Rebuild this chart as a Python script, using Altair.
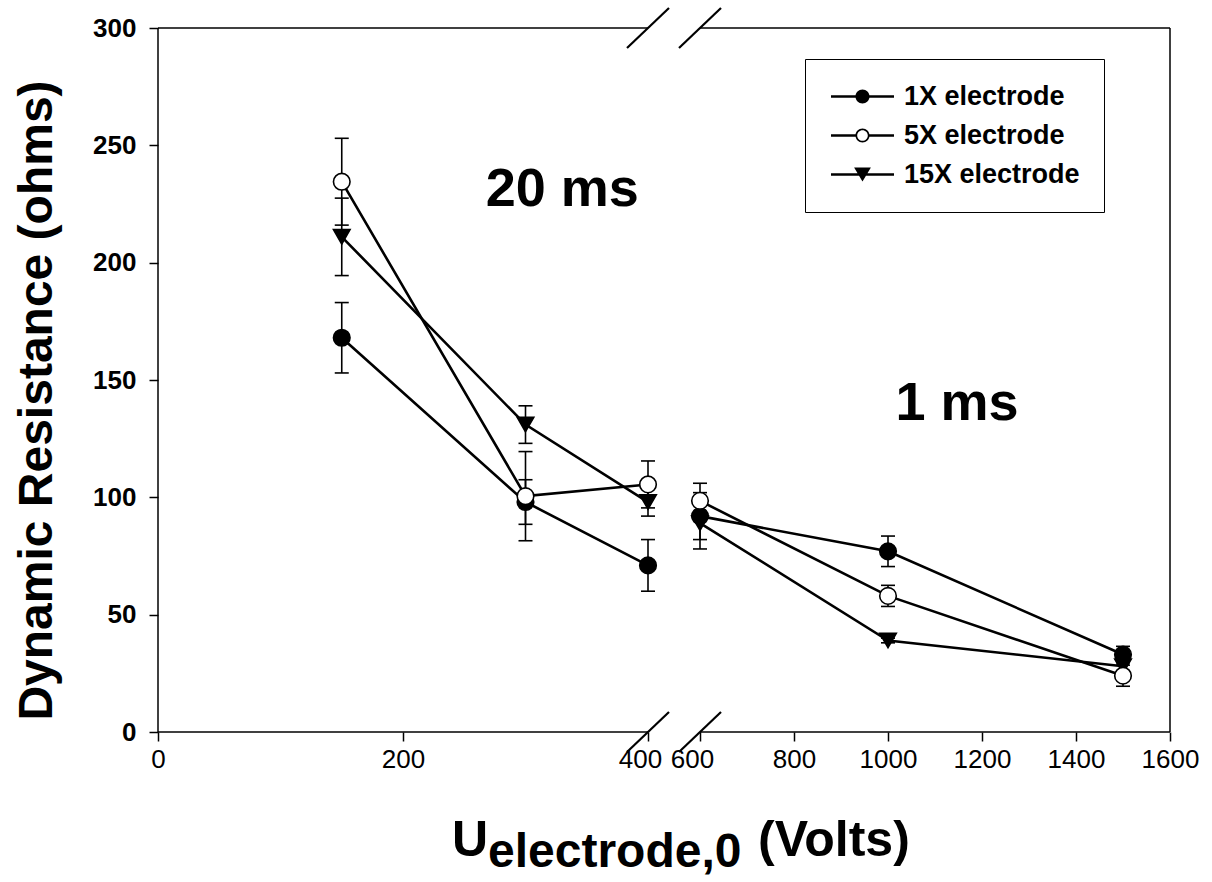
import altair as alt
import pandas as pd

# ---- data -----------------------------------------------------------------
series_names = ["1X electrode", "5X electrode", "15X electrode"]
voltages = [150, 300, 400, 600, 1000, 1500]
pulse_of_point = ["20 ms", "20 ms", "20 ms", "1 ms", "1 ms", "1 ms"]

res_1x = [168, 98, 71, 92, 77, 33]
err_1x = [15, 9.5, 11, 10, 6.5, 3.5]
res_5x = [234.5, 100.5, 105.5, 98.5, 58, 24]
err_5x = [18.5, 19, 10, 7.5, 4.5, 4.5]
res_15x = [211, 131, 98, 89, 39, 28]
err_15x = [16.5, 8, 6, 11, 1, 3]

x_ticks = [0, 200, 400, 600, 800, 1000, 1200, 1400, 1600]
y_ticks = [0, 50, 100, 150, 200, 250, 300]
x_domain = [0, 400, 600, 1600]          # 400-600 V is cut out of the axis
y_domain = [0, 300]

pulse_text = ["20 ms", "1 ms"]
pulse_volts = [330, 1147]
pulse_ohms = [224, 133]

# ---- tables ---------------------------------------------------------------
rows = []
# drawing order: later series sit on top
for name, res, err in [("15X electrode", res_15x, err_15x),
                       ("1X electrode", res_1x, err_1x),
                       ("5X electrode", res_5x, err_5x)]:
    for v, r, e, p in zip(voltages, res, err, pulse_of_point):
        rows.append({"series": name, "volts": v, "ohms": r,
                     "lo": r - e, "hi": r + e, "pulse": p})
df = pd.DataFrame(rows)

x0, xa, xb, x1 = x_domain
y0, y1 = y_domain
frame = pd.DataFrame({
    "x": [x0, x0, xb, x0, xb, x1],
    "x2": [x0, xa, x1, xa, x1, x1],
    "y": [y0, y0, y0, y1, y1, y0],
    "y2": [y1, y0, y0, y1, y1, y1],
})
breaks = pd.DataFrame({"x": [xa, xb, xa, xb], "y": [y0, y0, y1, y1]})
pulses = pd.DataFrame({"label": pulse_text, "volts": pulse_volts, "ohms": pulse_ohms})

# ---- scales & axes --------------------------------------------------------
FONT = "Liberation Sans"
xscale = alt.Scale(domain=x_domain, range=[0, 490, 542, 1012], nice=False, zero=False)
yscale = alt.Scale(domain=y_domain, nice=False, zero=False)

# labels either side of the axis break are nudged apart from the slashes
break_label_offset = {
    "condition": [{"test": f"datum.value === {xa}", "value": -8},
                  {"test": f"datum.value === {xb}", "value": -8}],
    "value": 0,
}

xaxis = alt.Axis(values=x_ticks, format="d", domain=False, grid=False, title=None,
                 tickSize=9, tickWidth=1.5, tickColor="black",
                 labelFont=FONT, labelFontSize=26, labelColor="black",
                 labelPadding=5, labelFlush=False, labelOverlap=False,
                 labelOffset=break_label_offset)
yaxis = alt.Axis(values=y_ticks, format="d", domain=False, grid=False,
                 title="Dynamic Resistance (ohms)", titleFont=FONT,
                 titleFontSize=48, titleFontWeight="bold", titleColor="black",
                 titleAngle=270, titleX=-121, titleY=372,
                 titleAlign="center", titleBaseline="middle",
                 tickSize=9, tickWidth=1.5, tickColor="black",
                 labelFont=FONT, labelFontSize=26, labelFontWeight="bold",
                 labelColor="black", labelPadding=13)


def X(field):
    return alt.X(f"{field}:Q", scale=xscale, axis=xaxis)


def Y(field):
    return alt.Y(f"{field}:Q", scale=yscale, axis=yaxis)


# ---- layers ---------------------------------------------------------------
frame_layer = alt.Chart(frame).mark_rule(color="black", strokeWidth=1.5).encode(
    x=X("x"), x2="x2:Q", y=Y("y"), y2="y2:Q")

slash_layer = alt.Chart(breaks).mark_rule(
    color="black", strokeWidth=2.2,
    xOffset=-21, x2Offset=21, yOffset=20, y2Offset=-20,
).encode(x=X("x"), x2="x:Q", y=Y("y"), y2="y:Q")

err_layer = alt.Chart(df).mark_rule(color="black", strokeWidth=1.6).encode(
    x=X("volts"), y=Y("lo"), y2="hi:Q")
cap_lo = alt.Chart(df).mark_rule(color="black", strokeWidth=1.6,
                                 xOffset=-7, x2Offset=7).encode(
    x=X("volts"), x2="volts:Q", y=Y("lo"))
cap_hi = alt.Chart(df).mark_rule(color="black", strokeWidth=1.6,
                                 xOffset=-7, x2Offset=7).encode(
    x=X("volts"), x2="volts:Q", y=Y("hi"))

line_layer = alt.Chart(df).mark_line(color="black", strokeWidth=2.6).encode(
    x=X("volts"), y=Y("ohms"), detail=["series:N", "pulse:N"])

point_layer = alt.Chart(df).mark_point(
    stroke="black", strokeWidth=1.6, size=275, opacity=1
).encode(
    x=X("volts"), y=Y("ohms"),
    shape=alt.Shape("series:N", legend=None, scale=alt.Scale(
        domain=series_names, range=["circle", "circle", "triangle-down"])),
    fill=alt.Fill("series:N", legend=None, scale=alt.Scale(
        domain=series_names, range=["black", "white", "black"])),
)

# legend symbols, drawn as filled outlines: a short line through the marker
stub = "M-4.5,-0.17H-0.95V0.17H-4.5Z M0.95,-0.17H4.5V0.17H0.95Z"
disc = "M-1,0A1,1,0,1,1,1,0A1,1,0,1,1,-1,0Z"
hole = "M-0.76,0A0.76,0.76,0,1,0,0.76,0A0.76,0.76,0,1,0,-0.76,0Z"
legend_paths = [
    stub + " " + disc,
    stub + " " + disc + " " + hole,
    "M-4.5,-0.17H4.5V0.17H-4.5Z M-1.2,-1H1.2L0,1Z",
]
key = alt.Legend(
    title=None, orient="none", legendX=647, legendY=31,
    padding=24, strokeColor="black", fillColor="white",
    symbolSize=196, symbolStrokeWidth=0,
    symbolOffset=20, labelOffset=28, rowPadding=11,
    labelFont=FONT, labelFontSize=27, labelFontWeight="bold",
    labelColor="black", labelLimit=400,
)
legend_layer = alt.Chart(df).transform_filter("false").mark_point(
    strokeWidth=0, opacity=1
).encode(
    x=X("volts"), y=Y("ohms"),
    shape=alt.Shape("series:N", legend=key, scale=alt.Scale(
        domain=series_names, range=legend_paths)),
    fill=alt.Fill("series:N", legend=key, scale=alt.Scale(
        domain=series_names, range=["black", "black", "black"])),
)

pulse_layer = alt.Chart(pulses).mark_text(
    font=FONT, fontSize=54, fontWeight="bold", color="black",
    align="center", baseline="alphabetic",
).encode(x=X("volts"), y=Y("ohms"), text="label:N")

# x-axis title below the plot: U with a lowered "electrode,0"
title_u = alt.Chart(pd.DataFrame({"t": ["U"]})).mark_text(
    font=FONT, fontSize=50, fontWeight="bold", color="black",
    align="left", baseline="alphabetic",
).encode(x=alt.value(294), y=alt.value(828), text="t:N")
title_sub = alt.Chart(pd.DataFrame({"t": ["electrode,0"]})).mark_text(
    font=FONT, fontSize=48, fontWeight="bold", color="black",
    align="left", baseline="alphabetic",
).encode(x=alt.value(330), y=alt.value(839), text="t:N")
title_unit = alt.Chart(pd.DataFrame({"t": ["(Volts)"]})).mark_text(
    font=FONT, fontSize=50, fontWeight="bold", color="black",
    align="left", baseline="alphabetic",
).encode(x=alt.value(600), y=alt.value(828), text="t:N")

chart = alt.layer(
    frame_layer, slash_layer, err_layer, cap_lo, cap_hi, line_layer,
    point_layer, legend_layer, pulse_layer, title_u, title_sub, title_unit,
).resolve_scale(
    shape="independent", fill="independent"
).properties(
    width=1012, height=704,
    padding={"left": 158, "top": 28, "right": 42, "bottom": 150},
    autosize=alt.AutoSizeParams(type="none"),
    background="white",
).configure_view(stroke=None)

chart.save("out.html", embed_options={"renderer": "svg", "actions": False})
